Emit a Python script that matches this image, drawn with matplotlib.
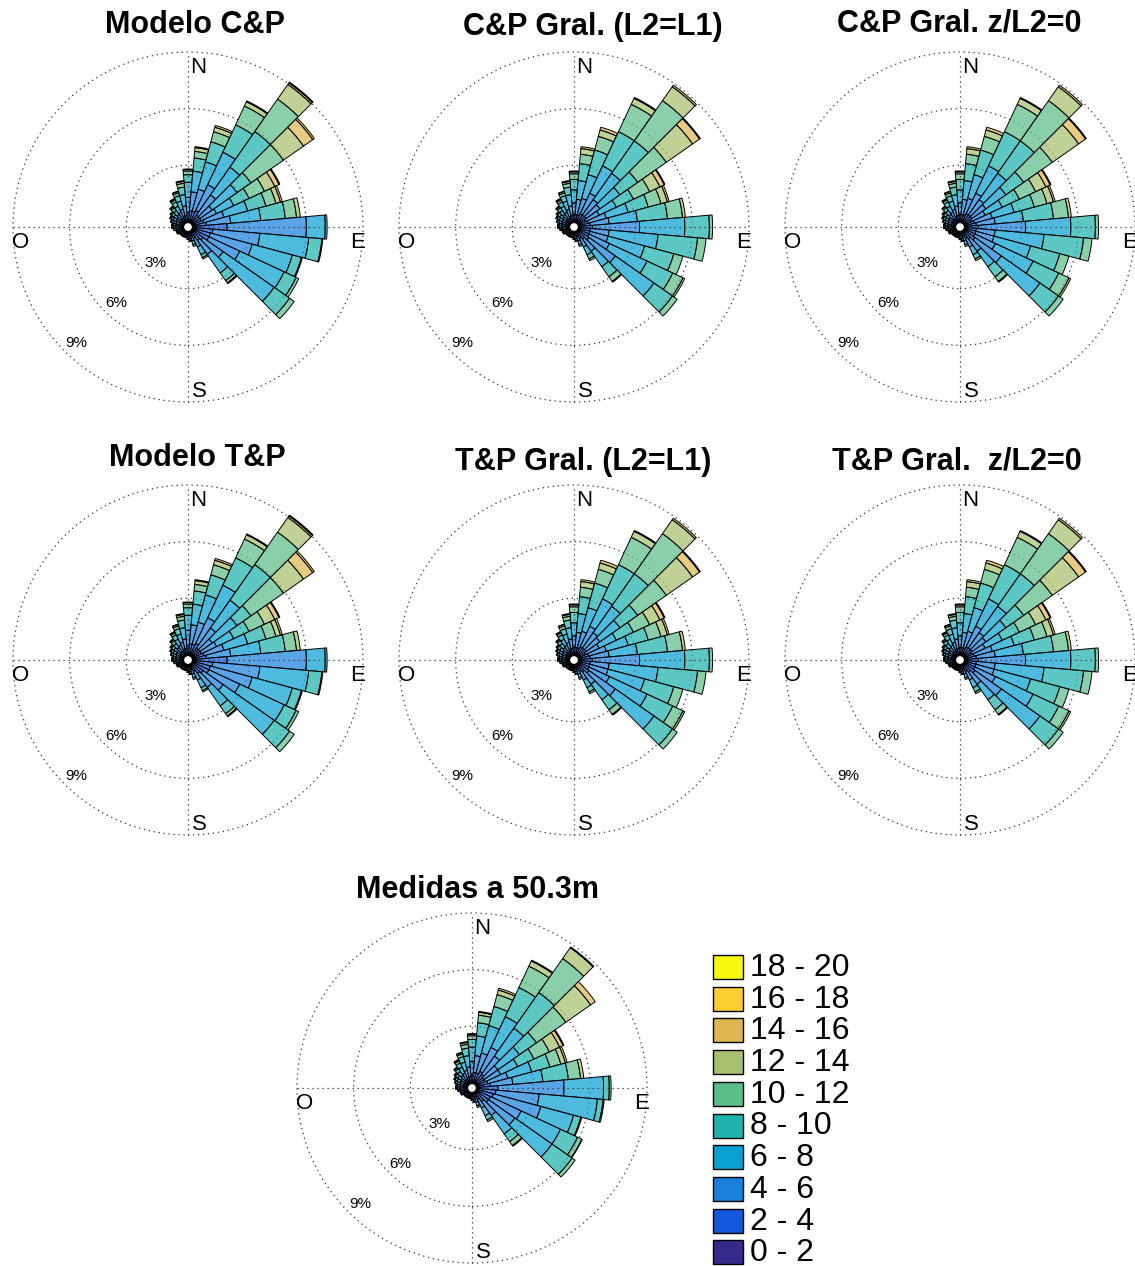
import numpy as np
import matplotlib
matplotlib.use("Agg")
import matplotlib.pyplot as plt
from matplotlib.patches import Wedge, Circle, Rectangle

plt.rcParams['font.family'] = ['Liberation Sans', 'DejaVu Sans']

# Figure size in pixels
W, H = 1135, 1266
DPI = 100

# Speed bins (m/s) and their colours (parula-like)
speed_labels = ['0 - 2', '2 - 4', '4 - 6', '6 - 8', '8 - 10',
                '10 - 12', '12 - 14', '14 - 16', '16 - 18', '18 - 20']
bin_colors = ['#352a87', '#1259de', '#1a80dc', '#0aa1d2', '#1fb2ac',
              '#5bbd8a', '#a8c06e', '#dfb752', '#fccf30', '#f8f80f']

directions = np.arange(0, 360, 10)   # sector centres, degrees from N clockwise
pct_ticks = [3, 6, 9]

# Frequency (%) per speed bin, sectors 0..150 deg
cp_model = [
    [0.1, 0.4, 0.8, 0.8, 0.4, 0.2, 0.08, 0.02],
    [0.1, 0.5, 1.0, 1.1, 0.7, 0.35, 0.2, 0.05],
    [0.1, 0.5, 1.2, 1.5, 1.1, 0.55, 0.25, 0.1],
    [0.1, 0.6, 1.5, 1.9, 1.6, 1.1, 0.25, 0.05],
    [0.1, 0.4, 1.3, 1.8, 2.3, 2.1, 0.95, 0.1, 0.05],
    [0.1, 0.4, 0.8, 1.6, 0.9, 2.1, 1.3, 0.6, 0.1],
    [0.1, 0.4, 0.9, 1.0, 0.9, 0.9, 0.6, 0.25, 0.05],
    [0.1, 0.5, 1.1, 1.3, 1.0, 0.55, 0.25, 0.1],
    [0.1, 0.6, 1.3, 1.6, 1.3, 0.6, 0.2],
    [0.15, 1.65, 4.2, 1.0, 0.1],
    [0.15, 0.9, 2.5, 2.6, 0.7, 0.05],
    [0.15, 0.8, 2.3, 2.2, 0.5, 0.05],
    [0.15, 0.8, 1.8, 2.6, 0.7, 0.15],
    [0.1, 0.6, 1.3, 3.3, 1.0, 0.3],
    [0.1, 0.5, 0.9, 1.2, 0.5, 0.15, 0.05],
    [0.1, 0.3, 0.5, 0.45, 0.17, 0.08],
]
cp_gral_l2l1 = [
    [0.1, 0.3, 0.6, 0.7, 0.55, 0.3, 0.1, 0.05],
    [0.1, 0.3, 0.8, 1.0, 0.9, 0.5, 0.3, 0.1],
    [0.1, 0.3, 0.9, 1.3, 1.35, 0.75, 0.35, 0.15],
    [0.1, 0.4, 1.2, 1.6, 2.0, 1.6, 0.35, 0.05],
    [0.1, 0.4, 1.0, 1.7, 2.1, 2.6, 0.9, 0.1],
    [0.1, 0.4, 0.9, 1.3, 1.15, 1.85, 1.7, 0.45, 0.05],
    [0.1, 0.3, 0.8, 1.0, 1.0, 0.95, 0.6, 0.25, 0.05],
    [0.1, 0.4, 1.0, 1.2, 1.1, 0.7, 0.35, 0.1],
    [0.1, 0.5, 1.0, 1.5, 1.6, 0.8, 0.15],
    [0.1, 0.6, 2.5, 2.4, 1.3, 0.17],
    [0.1, 0.5, 1.0, 2.6, 2.1, 0.45],
    [0.1, 0.5, 1.0, 2.0, 1.6, 0.5],
    [0.1, 0.5, 1.2, 2.2, 1.5, 0.6, 0.1],
    [0.1, 0.6, 1.7, 2.5, 1.2, 0.3],
    [0.1, 0.4, 0.8, 1.0, 0.65, 0.3, 0.05],
    [0.1, 0.3, 0.5, 0.45, 0.25, 0.1],
]
cp_gral_zl0 = [
    [0.1, 0.3, 0.6, 0.7, 0.55, 0.3, 0.1, 0.05],
    [0.1, 0.3, 0.8, 1.0, 0.9, 0.5, 0.3, 0.1],
    [0.1, 0.3, 0.9, 1.3, 1.35, 0.75, 0.35, 0.15],
    [0.1, 0.4, 1.2, 1.6, 2.0, 1.6, 0.35, 0.05],
    [0.1, 0.4, 1.0, 1.7, 2.1, 2.6, 0.9, 0.1],
    [0.1, 0.4, 0.9, 1.3, 1.15, 1.85, 1.7, 0.45, 0.05],
    [0.1, 0.3, 0.8, 1.0, 1.0, 0.95, 0.6, 0.25, 0.05],
    [0.1, 0.4, 1.0, 1.2, 1.1, 0.7, 0.35, 0.1],
    [0.1, 0.5, 1.0, 1.5, 1.6, 0.8, 0.15],
    [0.1, 0.6, 2.5, 2.4, 1.3, 0.17],
    [0.1, 0.5, 1.0, 2.6, 2.1, 0.45],
    [0.1, 0.5, 1.0, 2.0, 1.6, 0.5],
    [0.1, 0.5, 1.2, 2.2, 1.5, 0.6, 0.1],
    [0.1, 0.6, 1.7, 2.5, 1.2, 0.3],
    [0.1, 0.4, 0.8, 1.0, 0.65, 0.3, 0.05],
    [0.1, 0.3, 0.5, 0.45, 0.25, 0.1],
]
tp_model = [
    [0.1, 0.4, 0.8, 0.8, 0.4, 0.2, 0.08, 0.02],
    [0.1, 0.5, 1.0, 1.1, 0.7, 0.35, 0.2, 0.05],
    [0.1, 0.5, 1.2, 1.5, 1.1, 0.55, 0.25, 0.1],
    [0.1, 0.6, 1.5, 1.9, 1.6, 1.1, 0.25, 0.05],
    [0.1, 0.4, 1.3, 1.8, 2.3, 2.1, 0.95, 0.1, 0.05],
    [0.1, 0.4, 0.8, 1.6, 0.9, 2.1, 1.3, 0.6, 0.1],
    [0.1, 0.4, 0.9, 1.0, 0.9, 0.9, 0.6, 0.25, 0.05],
    [0.1, 0.5, 1.1, 1.3, 1.0, 0.55, 0.25, 0.1],
    [0.1, 0.6, 1.3, 1.6, 1.3, 0.6, 0.2],
    [0.15, 1.65, 4.2, 1.0, 0.1],
    [0.15, 0.9, 2.5, 2.6, 0.7, 0.05],
    [0.15, 0.8, 2.3, 2.2, 0.5, 0.05],
    [0.15, 0.8, 1.8, 2.6, 0.7, 0.15],
    [0.1, 0.6, 1.3, 3.3, 1.0, 0.3],
    [0.1, 0.5, 0.9, 1.2, 0.5, 0.15, 0.05],
    [0.1, 0.3, 0.5, 0.45, 0.17, 0.08],
]
tp_gral_l2l1 = [
    [0.1, 0.3, 0.6, 0.7, 0.55, 0.3, 0.1, 0.05],
    [0.1, 0.3, 0.8, 1.0, 0.9, 0.5, 0.3, 0.1],
    [0.1, 0.3, 0.9, 1.3, 1.35, 0.75, 0.35, 0.15],
    [0.1, 0.4, 1.2, 1.6, 2.0, 1.6, 0.35, 0.05],
    [0.1, 0.4, 1.0, 1.7, 2.1, 2.6, 0.9, 0.1],
    [0.1, 0.4, 0.9, 1.3, 1.15, 1.85, 1.7, 0.45, 0.05],
    [0.1, 0.3, 0.8, 1.0, 1.0, 0.95, 0.6, 0.25, 0.05],
    [0.1, 0.4, 1.0, 1.2, 1.1, 0.7, 0.35, 0.1],
    [0.1, 0.5, 1.0, 1.5, 1.6, 0.8, 0.15],
    [0.1, 0.6, 2.5, 2.4, 1.3, 0.17],
    [0.1, 0.5, 1.0, 2.6, 2.1, 0.45],
    [0.1, 0.5, 1.0, 2.0, 1.6, 0.5],
    [0.1, 0.5, 1.2, 2.2, 1.5, 0.6, 0.1],
    [0.1, 0.6, 1.7, 2.5, 1.2, 0.3],
    [0.1, 0.4, 0.8, 1.0, 0.65, 0.3, 0.05],
    [0.1, 0.3, 0.5, 0.45, 0.25, 0.1],
]
tp_gral_zl0 = [
    [0.1, 0.3, 0.6, 0.7, 0.55, 0.3, 0.1, 0.05],
    [0.1, 0.3, 0.8, 1.0, 0.9, 0.5, 0.3, 0.1],
    [0.1, 0.3, 0.9, 1.3, 1.35, 0.75, 0.35, 0.15],
    [0.1, 0.4, 1.2, 1.6, 2.0, 1.6, 0.35, 0.05],
    [0.1, 0.4, 1.0, 1.7, 2.1, 2.6, 0.9, 0.1],
    [0.1, 0.4, 0.9, 1.3, 1.15, 1.85, 1.7, 0.45, 0.05],
    [0.1, 0.3, 0.8, 1.0, 1.0, 0.95, 0.6, 0.25, 0.05],
    [0.1, 0.4, 1.0, 1.2, 1.1, 0.7, 0.35, 0.1],
    [0.1, 0.5, 1.0, 1.5, 1.6, 0.8, 0.15],
    [0.1, 0.6, 2.5, 2.4, 1.3, 0.17],
    [0.1, 0.5, 1.0, 2.6, 2.1, 0.45],
    [0.1, 0.5, 1.0, 2.0, 1.6, 0.5],
    [0.1, 0.5, 1.2, 2.2, 1.5, 0.6, 0.1],
    [0.1, 0.6, 1.7, 2.5, 1.2, 0.3],
    [0.1, 0.4, 0.8, 1.0, 0.65, 0.3, 0.05],
    [0.1, 0.3, 0.5, 0.45, 0.25, 0.1],
]
measured = [
    [0.1, 0.35, 0.7, 0.75, 0.4, 0.2, 0.08, 0.02],
    [0.1, 0.45, 0.9, 1.05, 0.7, 0.4, 0.15, 0.05],
    [0.1, 0.45, 1.1, 1.5, 1.05, 0.65, 0.25, 0.1],
    [0.1, 0.6, 1.4, 1.8, 1.7, 1.25, 0.3, 0.05],
    [0.1, 0.5, 1.2, 1.8, 2.3, 2.2, 0.7, 0.05],
    [0.1, 0.4, 0.9, 1.4, 1.1, 1.9, 1.6, 0.3],
    [0.1, 0.4, 0.9, 1.0, 0.95, 0.9, 0.6, 0.2, 0.05],
    [0.1, 0.5, 1.1, 1.3, 1.0, 0.6, 0.25, 0.1],
    [0.1, 0.6, 1.2, 1.6, 1.35, 0.65, 0.17],
    [0.1, 1.0, 3.5, 2.1, 0.3, 0.1],
    [0.1, 0.9, 2.3, 3.1, 0.3, 0.06],
    [0.1, 0.8, 2.6, 1.8, 0.4, 0.05],
    [0.1, 0.7, 1.8, 2.3, 1.0, 0.25, 0.02],
    [0.1, 0.7, 1.7, 2.4, 1.3, 0.2],
    [0.1, 0.5, 0.9, 1.2, 0.5, 0.25, 0.05],
    [0.1, 0.3, 0.5, 0.45, 0.25, 0.1],
]

# Weak sectors 160..350 deg, much the same in every rose
light_sectors = [
    [0.05, 0.2, 0.25, 0.2, 0.1],
    [0.05, 0.15, 0.15, 0.1, 0.05],
    [0.05, 0.12, 0.12, 0.08, 0.03],
    [0.04, 0.1, 0.09, 0.05, 0.02],
    [0.04, 0.1, 0.09, 0.05, 0.02],
    [0.04, 0.1, 0.09, 0.05, 0.02],
    [0.04, 0.1, 0.09, 0.05, 0.02],
    [0.04, 0.1, 0.09, 0.05, 0.02],
    [0.05, 0.12, 0.12, 0.08, 0.03],
    [0.05, 0.12, 0.12, 0.08, 0.03],
    [0.05, 0.15, 0.15, 0.1, 0.05],
    [0.05, 0.15, 0.18, 0.12, 0.07, 0.03],
    [0.05, 0.15, 0.18, 0.12, 0.07, 0.03],
    [0.05, 0.15, 0.2, 0.15, 0.1, 0.05],
    [0.05, 0.15, 0.22, 0.18, 0.12, 0.06, 0.02],
    [0.05, 0.15, 0.25, 0.2, 0.15, 0.07, 0.03],
    [0.05, 0.2, 0.3, 0.25, 0.18, 0.08, 0.04],
    [0.05, 0.2, 0.35, 0.35, 0.25, 0.12, 0.06, 0.02],
    [0.05, 0.25, 0.4, 0.45, 0.3, 0.15, 0.08, 0.02],
    [0.05, 0.3, 0.5, 0.6, 0.4, 0.2, 0.1, 0.05],
]

titles = ['Modelo C&P', 'C&P Gral. (L2=L1)', 'C&P Gral. z/L2=0',
          'Modelo T&P', 'T&P Gral. (L2=L1)', 'T&P Gral.  z/L2=0',
          'Medidas a 50.3m']
tables = [cp_model, cp_gral_l2l1, cp_gral_zl0,
          tp_model, tp_gral_l2l1, tp_gral_zl0, measured]

# layout (pixels)
centres = [(188, 227), (574, 227), (960, 227),
           (188, 660), (574, 660), (960, 660), (472, 1088)]
title_pos = [(195, 33), (593, 35), (959, 31),
             (197, 466), (583, 470), (957, 470), (477, 898)]

R0 = 0.27          # radius of the 0 % ring
RMAX = 9.0
PX_PER_UNIT = 175 / (R0 + RMAX)
LIM = 9.6
ALPHA = 0.72
dot = (0, (1, 3))

fig = plt.figure(figsize=(W / DPI, H / DPI), dpi=DPI)


def draw_rose(cx, cy, table):
    half = LIM * PX_PER_UNIT
    ax = fig.add_axes([(cx - half) / W, 1 - (cy + half) / H, 2 * half / W, 2 * half / H])
    ax.set_xlim(-LIM, LIM)
    ax.set_ylim(-LIM, LIM)
    ax.axis('off')

    # dotted grid
    for p in pct_ticks:
        ax.add_patch(Circle((0, 0), R0 + p, fill=False, ls=dot, lw=0.9, ec='#333333'))
    ax.plot([-R0 - RMAX, R0 + RMAX], [0, 0], ls=dot, lw=0.9, color='#333333')
    ax.plot([0, 0], [-R0 - RMAX, R0 + RMAX], ls=dot, lw=0.9, color='#333333')

    rows = table + light_sectors
    for d, row in zip(directions, rows):
        base = R0
        for k, v in enumerate(row):
            if v <= 0:
                continue
            col = matplotlib.colors.to_rgb(bin_colors[k])
            ax.add_patch(Wedge((0, 0), base + v, 90 - d - 5, 90 - d + 5, width=v,
                               facecolor=(*col, ALPHA), edgecolor='black', lw=0.7))
            base += v
    ax.add_patch(Circle((0, 0), R0, fc='white', ec='black', lw=1.8, zorder=5))

    # compass letters
    ax.text(0.1, 8.16, 'N', fontsize=16, ha='left', va='baseline')
    ax.text(0.2, -9.0, 'S', fontsize=16, ha='left', va='baseline')
    ax.text(9.4, -1.1, 'E', fontsize=16, ha='right', va='baseline')
    ax.text(-9.3, -1.1, 'O', fontsize=16, ha='left', va='baseline')
    # percentage labels
    for p, (x, y) in zip(pct_ticks, [(-1.7, -2.12), (-3.81, -4.24), (-5.93, -6.36)]):
        ax.text(x, y, f'{p}%', fontsize=11, ha='center', va='baseline')
    return ax


for (cx, cy), tab in zip(centres, tables):
    draw_rose(cx, cy, tab)

# overlay in pixel coordinates for titles and legend
over = fig.add_axes([0, 0, 1, 1])
over.set_xlim(0, W)
over.set_ylim(H, 0)
over.axis('off')
over.patch.set_alpha(0)

for (tx, ty), t in zip(title_pos, titles):
    over.text(tx, ty, t, fontsize=22, fontweight='bold', ha='center', va='baseline')

for i, lab in enumerate(speed_labels[::-1]):
    y = 967 + 31.7 * i
    col = bin_colors[::-1][i]
    over.add_patch(Rectangle((713, y - 12), 30, 24, fc=col, ec='black', lw=1.0))
    over.text(750, y + 1, lab, fontsize=23, ha='left', va='center')

fig.savefig('out.png', dpi=DPI)
